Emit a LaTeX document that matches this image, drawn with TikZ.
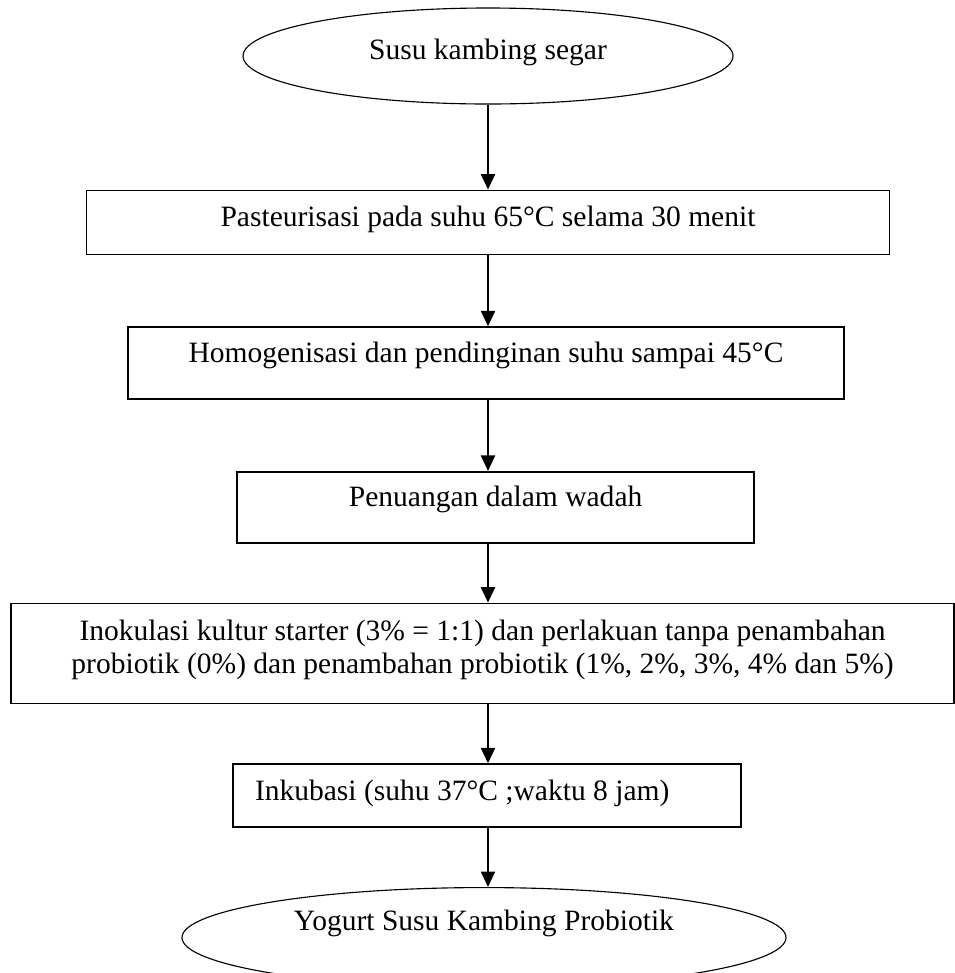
\documentclass[tikz,border=0pt]{standalone}
\usepackage{fontspec}
\setmainfont{Liberation Serif}
\usetikzlibrary{shapes.geometric, arrows.meta, positioning}
\tikzset{
        terminal/.style={ellipse, draw, line width=0.8pt, minimum width=12.25cm, minimum height=2.4cm},
        block/.style={rectangle, draw, line width=1.2pt, align=center},
        arrow/.style={-{Triangle[length=11pt, width=10pt]}, line width=1.5pt},
    }

\begin{document}
\begin{tikzpicture}[font=\fontsize{21}{23.5}\selectfont, node distance=1.475cm]
        \useasboundingbox (0,0) rectangle (23.875,-24.325);

        % Start
        \node[terminal, text depth=9pt] (susu) at (12.2,-1.4) {Susu kambing segar};

        % Process steps
        \node[block, minimum width=20.075cm, minimum height=1.6cm, text depth=9pt, below=2.125cm of susu] (pasteur) {Pasteurisasi pada suhu 65°C selama 30 menit};
        \node[block, minimum width=17.9cm, minimum height=1.8cm, text depth=15pt, below=1.775cm of pasteur, xshift=-0.05cm] (homogen) {Homogenisasi dan pendinginan suhu sampai 45°C};
        \node[block, minimum width=12.925cm, minimum height=1.775cm, text depth=15pt, below=1.775cm of homogen, xshift=0.24cm] (penuangan) {Penuangan dalam wadah};
        \node[block, minimum width=23.575cm, minimum height=2.5cm, text depth=9pt, below=of penuangan, xshift=-0.325cm] (inokulasi) {Inokulasi kultur starter (3\% = 1:1) dan perlakuan tanpa penambahan\\probiotik (0\%) dan penambahan probiotik (1\%, 2\%, 3\%, 4\% dan 5\%)};
        \node[block, text width=11.6cm, align=flush left, inner xsep=0.55cm, minimum height=1.575cm, text depth=8pt, below=of inokulasi, xshift=0.11cm] (inkubasi) {Inkubasi (suhu 37°C ;waktu 8 jam)};

        % End
        \node[terminal, minimum width=15.1cm, minimum height=2.5cm, text depth=25pt, below=of inkubasi, xshift=-0.075cm] (yogurt) {Yogurt Susu Kambing Probiotik};

        \draw[arrow] (susu.south) -- (pasteur.north -| susu);
        \draw[arrow] (pasteur.south -| susu) -- (homogen.north -| susu);
        \draw[arrow] (homogen.south -| susu) -- (penuangan.north -| susu);
        \draw[arrow] (penuangan.south -| susu) -- (inokulasi.north -| susu);
        \draw[arrow] (inokulasi.south -| susu) -- (inkubasi.north -| susu);
        \draw[arrow] (inkubasi.south -| susu) -- (yogurt.north -| susu);
    \end{tikzpicture}
\end{document}
